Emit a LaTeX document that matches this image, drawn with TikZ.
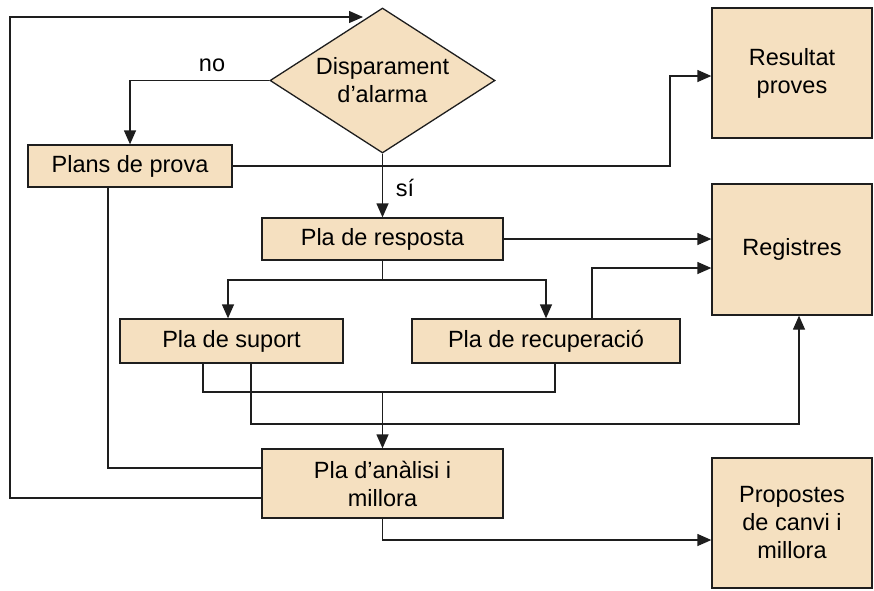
\documentclass[tikz,border=0pt]{standalone}
\usepackage{fontspec}
\setmainfont{Liberation Sans}
\usetikzlibrary{shapes.geometric,arrows.meta}
\definecolor{boxfill}{RGB}{245,224,192}
\definecolor{edge}{RGB}{30,30,30}
\newcommand\fs{\fontsize{23.5}{28}\selectfont}
\tikzset{
  box/.style={draw=edge, fill=boxfill, line width=1.3pt, inner sep=0pt, align=center, font=\fs},
  dia/.style={box, shape=diamond, aspect=1.55},
  conn/.style={draw=edge, line width=1.3pt},
  arr/.style={conn, -{Triangle[length=14pt,width=12pt]}},
  lbl/.style={font=\fs, inner sep=0pt}
}
\begin{document}
\begin{tikzpicture}[x=1pt,y=-1pt]
\useasboundingbox (0,0) rectangle (874,590);
% nodes
\node[dia, minimum width=225pt, minimum height=145pt] (d) at (382.5,80.5) {Disparament\\d’alarma};
\node[box, minimum width=204pt, minimum height=42pt] (pp) at (130,166) {Plans de prova};
\node[box, minimum width=160pt, minimum height=130pt] (rp) at (792,73) {Resultat\\proves};
\node[box, minimum width=160pt, minimum height=131pt] (reg) at (792,249.5) {Registres};
\node[box, minimum width=160pt, minimum height=130pt] (prop) at (792,523) {Propostes\\de canvi i\\millora};
\node[box, minimum width=241pt, minimum height=42pt] (resp) at (382.5,239) {Pla de resposta};
\node[box, minimum width=223pt, minimum height=44pt] (sup) at (231.5,341) {Pla de suport};
\node[box, minimum width=268pt, minimum height=44pt] (rec) at (546,341) {Pla de recuperació};
\node[box, minimum width=241pt, minimum height=69pt] (an) at (382.5,483.5) {Pla d’anàlisi i\\millora};
% labels
\node[lbl] (no) at (212,65) {no};
\node[lbl] (si) at (405,188) {sí};
% helper coordinates
\coordinate (j1) at (382.5,280);
\coordinate (j2) at (382.5,392);
\coordinate (c8) at (799,424);
\coordinate (lp) at (10,17);
\coordinate (dtip) at (363,17);
\coordinate (c3) at (670,166);
% connectors
\draw[arr] (d.west) -| (pp.north);
\draw[arr] (d.south) -- (resp.north);
\draw[arr] (pp.east) -- (c3) |- ([yshift=-3pt]rp.west);
\draw[arr] (resp.east) -- (resp.east -| reg.west);
\draw[conn] (resp.south) -- (j1);
\draw[arr] (j1) -| ([xshift=-3.5pt]sup.north);
\draw[arr] (j1) -| (rec.north);
\draw[arr] ([xshift=46pt]rec.north) |- ([yshift=-18.5pt]reg.west);
\draw[conn] ([xshift=-28.5pt]sup.south) |- (j2) -| ([xshift=9pt]rec.south);
\draw[arr] (j2) -- (an.north);
\draw[arr] ([xshift=19.5pt]sup.south) |- (c8) -- (c8 |- reg.south);
\draw[conn] ([xshift=-22pt]pp.south) |- ([yshift=15.5pt]an.west);
\draw[arr] ([yshift=-14.5pt]an.west) -| (lp) -- (dtip);
\draw[arr] (an.south) |- ([yshift=-17pt]prop.west);
\end{tikzpicture}
\end{document}
